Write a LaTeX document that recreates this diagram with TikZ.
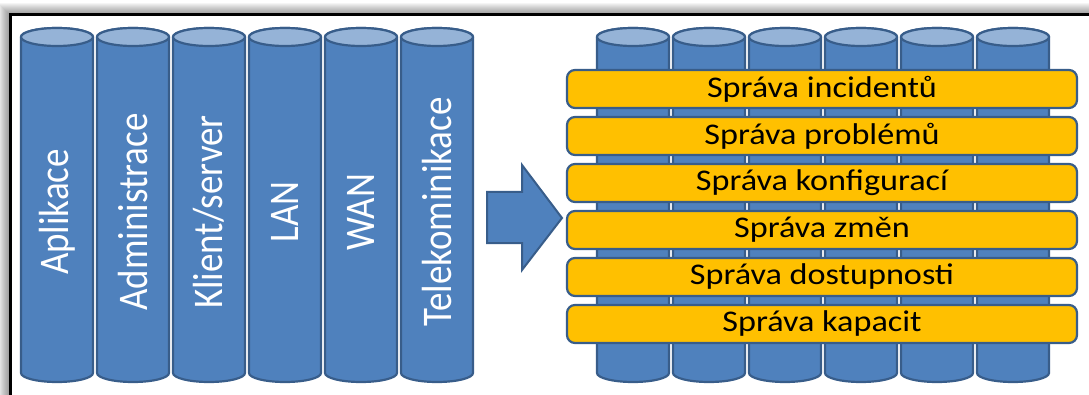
\documentclass[tikz,border=0pt]{standalone}
\usepackage{fontspec}
\setmainfont{Carlito}
\usetikzlibrary{positioning}
\definecolor{silofill}{HTML}{4F81BD}
\definecolor{silolight}{HTML}{95B3D7}
\definecolor{siloline}{HTML}{385D8A}
\definecolor{baryellow}{HTML}{FFC000}

\begin{document}
\begin{tikzpicture}[
    x=1pt, y=1pt,
    node distance=6.8pt,
    silo/.style={
        fill=silofill,
        draw=siloline,
        line width=2.2pt
    },
    silolid/.style={
        fill=silolight,
        draw=siloline,
        line width=2.2pt
    },
    silotext/.style={
        text=white,
        rotate=90,
        inner sep=0pt,
        font=\fontsize{37}{40}\selectfont
    },
    bar/.style={
        rectangle,
        rounded corners=8pt,
        draw=siloline,
        fill=baryellow,
        line width=2.2pt,
        minimum width=510pt,
        minimum height=38pt,
        inner sep=0pt,
        text centered,
        font=\fontsize{30}{32}\selectfont
    },
    bigarrow/.style={
        fill=silofill,
        draw=siloline,
        line width=2pt,
        line join=miter
    }
]

\useasboundingbox (0,0) rectangle (1089,394);
\clip (0,0) rectangle (1089,394);

% frame with shadow
\foreach \k in {1,...,12}
    \fill[black, opacity=0.04] (10-\k,379+\k) rectangle (1100,-20);
\fill[white] (10,379) rectangle (1100,-20);
\draw[line width=3pt] (10,379) rectangle (1100,-20);

% silos on the left
\foreach \i/\txt in {0/Aplikace, 1/Administrace, 2/{Klient/server}, 3/LAN, 4/WAN, 5/Telekominikace} {
    \pgfmathsetmacro{\xl}{21+76*\i}
    \draw[silo] (\xl,357) -- (\xl,21)
        arc[start angle=180, end angle=360, x radius=36, y radius=9]
        -- ++(0,336)
        arc[start angle=0, end angle=180, x radius=36, y radius=9] -- cycle;
    \draw[silolid] (\xl+36,357) ellipse[x radius=36, y radius=9];
    \node[silotext] (silo\i) at (\xl+36,182) {\scalebox{1}[1.14]{\txt}};
}

% silos on the right
\foreach \i in {0,...,5} {
    \pgfmathsetmacro{\xr}{597+76*\i}
    \draw[silo] (\xr,357) -- (\xr,21)
        arc[start angle=180, end angle=360, x radius=36, y radius=9]
        -- ++(0,336)
        arc[start angle=0, end angle=180, x radius=36, y radius=9] -- cycle;
    \draw[silolid] (\xr+36,357) ellipse[x radius=36, y radius=9];
}

% arrow
\draw[bigarrow] (487,202) -- (522,202) -- (522,229) -- (562,176)
    -- (522,124) -- (522,151) -- (487,151) -- cycle;

% processes
\node[bar] (incident) at (822,305) {\scalebox{1.14}[1]{Správa incidentů}};
\node[bar, below=of incident] (problem) {\scalebox{1.14}[1]{Správa problémů}};
\node[bar, below=of problem] (config) {\scalebox{1.14}[1]{Správa konfigurací}};
\node[bar, below=of config] (change) {\scalebox{1.14}[1]{Správa změn}};
\node[bar, below=of change] (avail) {\scalebox{1.14}[1]{Správa dostupnosti}};
\node[bar, below=of avail] (capacity) {\scalebox{1.14}[1]{Správa kapacit}};

\end{tikzpicture}
\end{document}
